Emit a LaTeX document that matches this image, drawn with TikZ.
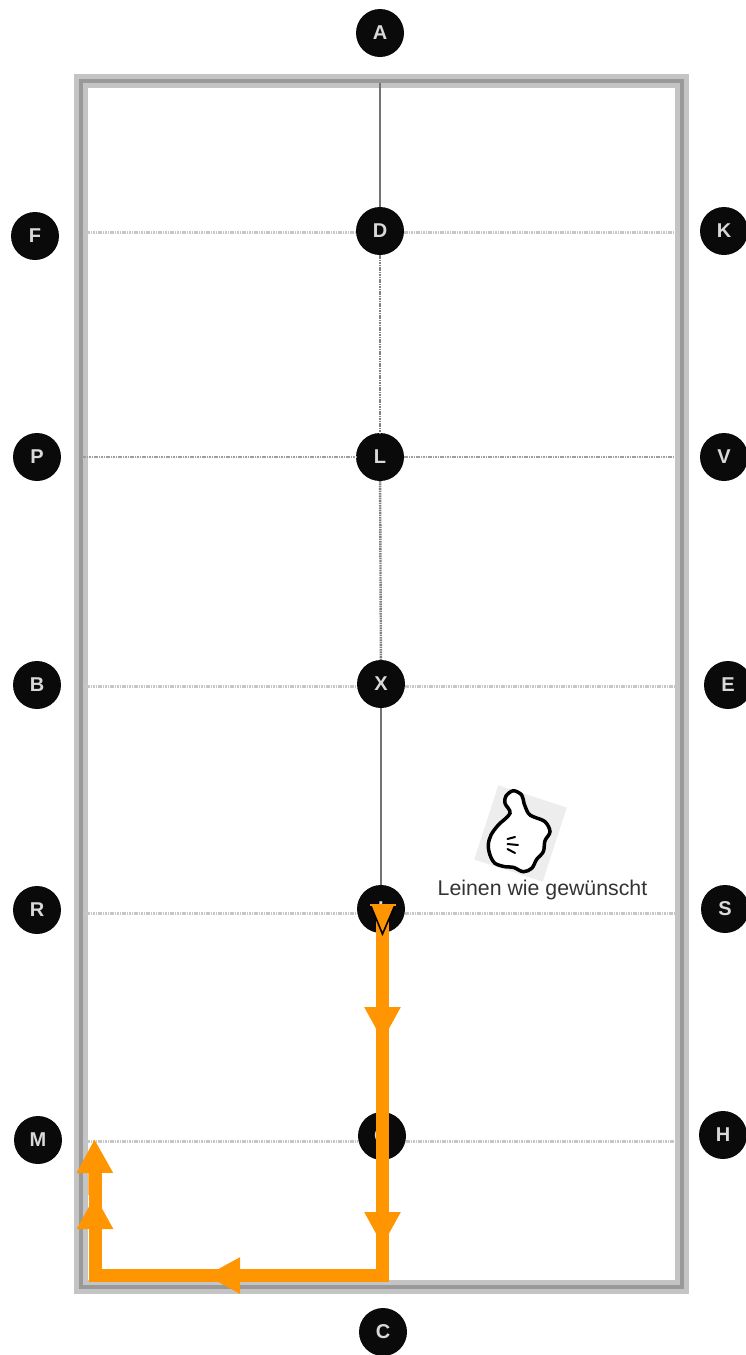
\documentclass[tikz,border=0pt]{standalone}
\usepackage{fontspec}
\setmainfont{Liberation Sans}
\usepackage{tikz}
\usetikzlibrary{arrows.meta,positioning}
\definecolor{routeorange}{HTML}{FF9500}

\begin{document}
\begin{tikzpicture}[
      x=1pt, y=-1pt,
      marker/.style={circle, fill=black!96, text=black!15, inner sep=0pt, outer sep=0pt, minimum size=48pt, font=\fontsize{20}{20}\selectfont\bfseries},
      arena/.style={rectangle, draw=black!23, line width=14pt, outer sep=0pt, minimum width=601pt, minimum height=1206pt},
      arenaband/.style={draw=black!40, line width=4pt},
      rowline/.style={draw=black!22, line width=3pt, dash pattern=on 1.6pt off 0.8pt},
      midline/.style={draw=black!55, line width=2pt},
      middots/.style={draw=black!50, line width=2.4pt, dash pattern=on 1.6pt off 0.8pt},
      route/.style={draw=routeorange, line width=13pt},
      routearr/.style={route, -{Triangle[length=34pt, width=34pt]}},
      thumbline/.style={draw=black, line width=2pt, line cap=round},
    ]
    \useasboundingbox (0,0) rectangle (745,1355);
    \node[arena] (frame) at (381.5,684) {};
    \draw[arenaband] (frame.north west) rectangle (frame.south east);

    % middle column
    \node[marker] (A) at (380,33) {A};
    \node[marker, below=150pt of A] (D) {D};
    \node[marker, below=178pt of D] (L) {L};
    \node[marker, below=179pt of L, xshift=1pt] (X) {X};
    \node[marker, below=177pt of X] (I) {I};
    \node[marker, below=179pt of I, xshift=1pt] (G) {G};
    \node[marker, below=148pt of G, xshift=1pt] (C) {C};

    % long sides
    \node[marker, left=297pt of D, yshift=-5pt] (F) {F};
    \node[marker, right=296pt of D] (K) {K};
    \node[marker, left=295pt of L] (P) {P};
    \node[marker, right=296pt of L] (V) {V};
    \node[marker, left=296pt of X, yshift=-1pt] (B) {B};
    \node[marker, right=299pt of X, yshift=-1pt] (E) {E};
    \node[marker, left=296pt of I, yshift=-1pt] (R) {R};
    \node[marker, right=296pt of I] (S) {S};
    \node[marker, left=296pt of G, yshift=-4pt] (M) {M};
    \node[marker, right=293pt of G, yshift=1pt] (H) {H};

    % arena lines
    \coordinate (dw) at (86,232);
    \coordinate (de) at (675,232);
    \coordinate (lw) at (82,457);
    \coordinate (le) at (675,457);
    \coordinate (xw) at (86,686);
    \coordinate (xe) at (675,686);
    \coordinate (iw) at (86,913);
    \coordinate (ie) at (675,913);
    \coordinate (gw) at (86,1141);
    \coordinate (ge) at (675,1141);
    \draw[rowline] (dw) -- ([yshift=-1pt]D.west);
    \draw[rowline] ([yshift=-1pt]D.east) -- (de);
    \draw[rowline, line width=2.4pt, draw=black!38] (lw) -- (L.west);
    \draw[rowline, line width=2.4pt, draw=black!38] (L.east) -- (le);
    \draw[rowline] (xw) -- ([yshift=-2pt]X.west);
    \draw[rowline] ([yshift=-2pt]X.east) -- (xe);
    \draw[rowline] (iw) -- ([yshift=-4pt]I.west);
    \draw[rowline] ([yshift=-4pt]I.east) -- (ie);
    \draw[rowline] (gw) -- ([yshift=-5pt]G.west);
    \draw[rowline] ([yshift=-5pt]G.east) -- (ge);
    \draw[midline] ([yshift=-2pt]frame.north -| D) -- (D);
    \draw[middots] (D) -- (L);
    \draw[middots] (L) -- (X);
    \draw[midline] (X) -- (I);

    % thumb
    \node[rectangle, fill=black!7, rotate=-18, minimum width=72pt, minimum height=78pt] (patch) at (520.5,833.5) {};
    \draw[black, fill=white, line width=3.5pt] plot[smooth cycle, tension=0.55] coordinates {(513.3,790.7) (506,796) (505,803.3) (510,813.3) (498.3,825) (491,835) (488.3,845) (490,855) (495,863.3) (505,866.7) (513.3,867.3) (523.3,871.7) (531.7,868.3) (536.7,859.3) (543.3,851.7) (545,840.7) (550,831.7) (545,821.7) (533.3,816.7) (528.3,813.3) (524,803.3) (521.7,795)};
    \draw[thumbline] (507.5,839) -- (515,837);
    \draw[thumbline] (507.5,844) -- (518,845);
    \draw[thumbline] (507.5,849) -- (515,853);
    \node[font=\fontsize{21.3}{22}\selectfont, text=black!80, inner sep=0pt] (wish) at (542.5,890) {Leinen wie gewünscht};

    % route
    \coordinate (r0) at (382.5,905);
    \coordinate (r1) at (382.5,1041);
    \coordinate (r2) at (382.5,1246);
    \coordinate (r3) at (382.5,1275.5);
    \coordinate (r4) at (206,1275.5);
    \coordinate (r5) at (95,1275.5);
    \coordinate (r6) at (95,1195);
    \coordinate (r7) at (94.5,1139);
    \coordinate (r8) at (95,1173);
    \draw[routearr] (r0) -- (r1);
    \draw[routearr] (r1) -- (r2);
    \draw[routearr] (r3) -- (r4);
    \draw[routearr] (r5) -- (r6);
    \draw[routearr] (r6) -- (r7);
    \draw[route] (r0) -- (r3) -- (r5) -- (r8);
    \draw[black, fill=routeorange, line width=1.6pt] (370.5,905) -- (395,905) -- (382.5,934) -- cycle;
    \fill[routeorange] (369.5,904) rectangle (396,906);
  \end{tikzpicture}
\end{document}
